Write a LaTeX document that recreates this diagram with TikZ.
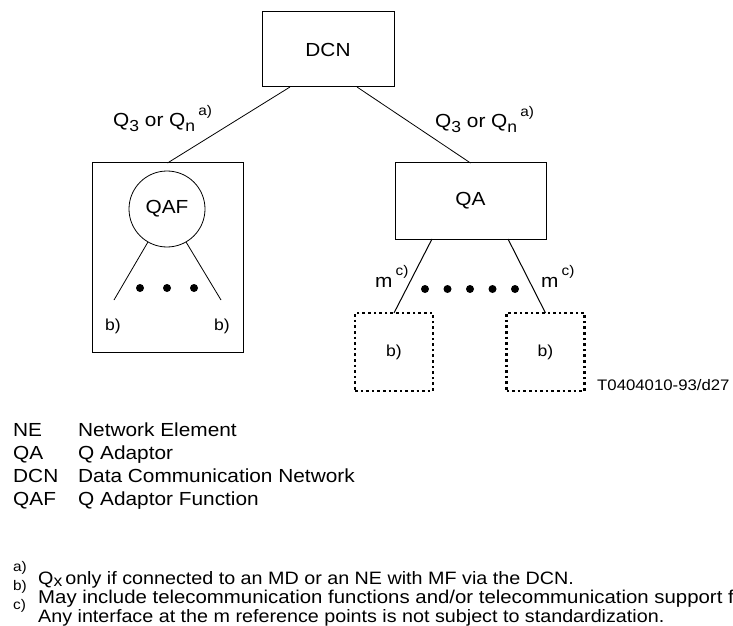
\documentclass[tikz,border=0pt]{standalone}
\usepackage{fontspec}
\setmainfont{Liberation Sans}[FakeStretch=1.1]
\usetikzlibrary{positioning}

\newcommand{\lowtxt}[1]{\raisebox{-0.45ex}{\fontsize{16}{16}\selectfont #1}}
\newcommand{\hightxt}[1]{\raisebox{1.1ex}{\fontsize{14}{14}\selectfont #1}}

\begin{document}
\begin{tikzpicture}[x=1bp,y=-1bp]

\tikzstyle{box}=[draw,line width=1bp,outer sep=0pt,inner sep=0pt,font=\fontsize{19}{19}\selectfont]
\tikzstyle{nebox}=[draw,line width=2.6bp,dash pattern=on 2.6bp off 3bp,outer sep=0pt,inner sep=0pt,minimum width=78bp,minimum height=78bp,font=\fontsize{16}{16}\selectfont]
\tikzstyle{link}=[line width=0.8bp]
\tikzstyle{lbl}=[inner sep=0pt,anchor=base west,font=\fontsize{19}{19}\selectfont]
\tikzstyle{small}=[inner sep=0pt,font=\fontsize{16}{16}\selectfont]
\tikzstyle{dot}=[fill,circle,inner sep=0pt,minimum size=8bp]

\useasboundingbox (0,0) rectangle (733,626);
\clip (0,0) rectangle (733,626);

% DCN

\node (dcn) [box,minimum width=132bp,minimum height=75bp] at (328,49.5) {DCN};

% QA

\node (qa) [box,minimum width=151bp,minimum height=76bp] at (470.5,201) {QA};

\node (q2) [lbl] at (435,128) {Q\lowtxt{3} or Q\lowtxt{n}\,\hightxt{a)}};

\draw [link] ([xshift=-37bp]dcn.south east) -- (qa.north);

% NE z QAF

\node (ne0) [box,minimum width=151bp,minimum height=189bp] at (167.5,257.5) {};
\node (qaf) [draw,circle,line width=0.8bp,minimum size=76bp,inner sep=0pt,font=\fontsize{19}{19}\selectfont] at (167,209) {QAF};

\node (q1) [lbl] at (113,127) {Q\lowtxt{3} or Q\lowtxt{n}\,\hightxt{a)}};

\draw [link] ([xshift=28bp]dcn.south west) -- (ne0.north);

\coordinate (f1) at (114,300);
\coordinate (f2) at (221,300);
\draw [link] (qaf.-120) -- (f1);
\draw [link] (qaf.-60) -- (f2);

\foreach \x in {140,167,194} \node [dot] at (\x,288) {};

\node (b1) [small] at (113,326) {b)};
\node (b2) [small] at (222,326) {b)};

% NE pod QA

\node (ne1) [nebox] at (394,352) {b)};
\node (ne2) [nebox] at (545.5,352) {b)};

\draw [link,line width=1bp] ([xshift=37bp]qa.south west) -- (ne1.north);
\draw [link,line width=1bp] ([xshift=-38bp]qa.south east) -- (ne2.north);

\foreach \x in {425,447.5,470,492.5,515} \node [dot] at (\x,289) {};

\node (m1) [lbl] at (375,287) {m\,\hightxt{c)}};
\node (m2) [lbl] at (541,287) {m\,\hightxt{c)}};

\node (tref) [lbl,font=\fontsize{15.3}{15.3}\selectfont] at (597,390) {T0404010-93/d27};

% Legenda

\node (l1) [lbl] at (13,436) {NE};
\node (l2) [lbl] at (13,459) {QA};
\node (l3) [lbl] at (13,482) {DCN};
\node (l4) [lbl] at (13,505) {QAF};

\node (d1) [lbl] at (78,436) {Network Element};
\node (d2) [lbl] at (78,459) {Q Adaptor};
\node (d3) [lbl] at (78,482) {Data Communication Network};
\node (d4) [lbl] at (78,505) {Q Adaptor Function};

% Przypisy

\node (fa) [lbl] at (13,582) {\hightxt{a)}};
\node (fb) [lbl] at (13,601) {\hightxt{b)}};
\node (fc) [lbl] at (13,620) {\hightxt{c)}};

\node (ta) [lbl,font=\fontsize{18}{18}\selectfont] at (38,584) {Q\raisebox{-0.3ex}{\fontsize{16}{16}\selectfont x}\,only if connected to an MD or an NE with MF via the DCN.};
\node (tb) [lbl,font=\fontsize{18.6}{18.6}\selectfont] at (38,603) {May include telecommunication functions and/or telecommunication support functions.};
\node (tc) [lbl,font=\fontsize{18}{18}\selectfont] at (38,622) {Any interface at the m reference points is not subject to standardization.};

\end{tikzpicture}
\end{document}
